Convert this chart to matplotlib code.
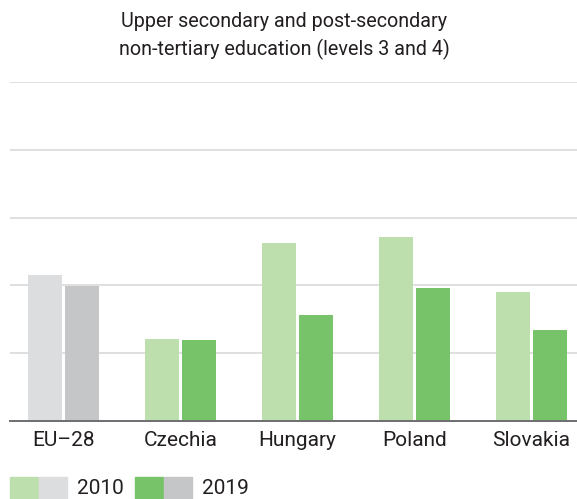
import matplotlib.pyplot as plt
from matplotlib.patches import Rectangle

plt.rcParams['font.family'] = ['Roboto', 'DejaVu Sans']

countries = ['EU\u201328', 'Czechia', 'Hungary', 'Poland', 'Slovakia']
values_2010 = [21.6, 12.1, 26.3, 27.2, 19.0]
values_2019 = [19.9, 11.9, 15.6, 19.6, 13.4]

light_2010 = ['#dcdddf', '#bddfae', '#bddfae', '#bddfae', '#bddfae']
dark_2019 = ['#c5c6c8', '#77c36a', '#77c36a', '#77c36a', '#77c36a']
text_col = '#231f20'

fig = plt.figure(figsize=(5.77, 4.99), dpi=100)
ax = fig.add_axes([10 / 577, 1 - 421 / 499, 567 / 577, (421 - 82) / 499])

x = list(range(len(countries)))
w = 0.29
off = 0.158
ax.bar([i - off for i in x], values_2010, width=w, color=light_2010, zorder=2)
ax.bar([i + off for i in x], values_2019, width=w, color=dark_2019, zorder=2)

ax.set_xlim(-0.457, 4.389)
ax.set_ylim(0, 50)
ax.set_yticks([10, 20, 30, 40, 50])
ax.yaxis.grid(True, color='#d9d9d9', linewidth=1.2, zorder=0)
ax.set_yticklabels([])
ax.tick_params(axis='y', length=0)
ax.set_xticks(x)
ax.set_xticklabels(countries, fontsize=15, color=text_col)
ax.tick_params(axis='x', length=0, pad=7)
for s in ['top', 'right', 'left']:
    ax.spines[s].set_visible(False)
ax.spines['bottom'].set_color('#6d6e71')
ax.spines['bottom'].set_linewidth(1.4)
ax.spines['bottom'].set_zorder(3)

fig.text(284 / 577, 1 - 36 / 499,
         'Upper secondary and post-secondary\nnon-tertiary education (levels 3 and 4)',
         ha='center', va='center', fontsize=14.2, color=text_col, linespacing=1.45)

# legend: green/grey swatch pairs for each year
sw_h = 22 / 499
for x0, c1, c2, label in [(10, '#bddfae', '#dcdddf', '2010'),
                          (135, '#77c36a', '#c5c6c8', '2019')]:
    fig.add_artist(Rectangle((x0 / 577, 0), 28 / 577, sw_h,
                             transform=fig.transFigure, color=c1))
    fig.add_artist(Rectangle(((x0 + 29) / 577, 0), 28 / 577, sw_h,
                             transform=fig.transFigure, color=c2))
    fig.text((x0 + 67) / 577, 1 - 489 / 499, label, ha='left', va='center',
             fontsize=15, color=text_col)

fig.savefig('out.png', dpi=100)
